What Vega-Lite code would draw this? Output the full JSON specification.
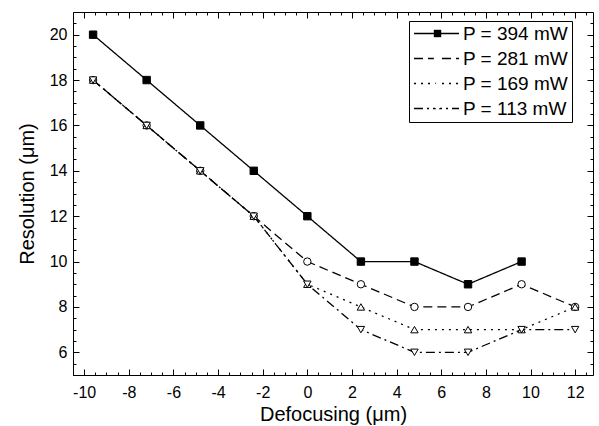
{
  "$schema": "https://vega.github.io/schema/vega-lite/v6.json",
  "width": 520,
  "height": 363,
  "autosize": {"type": "none"},
  "padding": {"left": 73, "top": 12, "right": 6, "bottom": 51},
  "config": {
    "font": "Liberation Sans",
    "view": {"stroke": "black", "strokeWidth": 1},
    "axis": {
      "grid": false,
      "domainColor": "black",
      "tickColor": "black",
      "labelColor": "black",
      "titleColor": "black",
      "labelFontSize": 16,
      "titleFontSize": 20,
      "titleFontWeight": "normal",
      "labelOverlap": false,
      "labelFlush": false,
      "labelBound": false,
      "tickWidth": 1,
      "domainWidth": 1
    }
  },
  "data": {
    "values": [
      {"P": "P = 394 mW", "x": -9.6, "y": 20},
      {"P": "P = 394 mW", "x": -7.2, "y": 18},
      {"P": "P = 394 mW", "x": -4.8, "y": 16},
      {"P": "P = 394 mW", "x": -2.4, "y": 14},
      {"P": "P = 394 mW", "x": 0, "y": 12},
      {"P": "P = 394 mW", "x": 2.4, "y": 10},
      {"P": "P = 394 mW", "x": 4.8, "y": 10},
      {"P": "P = 394 mW", "x": 7.2, "y": 9},
      {"P": "P = 394 mW", "x": 9.6, "y": 10},
      {"P": "P = 281 mW", "x": -9.6, "y": 18},
      {"P": "P = 281 mW", "x": -7.2, "y": 16},
      {"P": "P = 281 mW", "x": -4.8, "y": 14},
      {"P": "P = 281 mW", "x": -2.4, "y": 12},
      {"P": "P = 281 mW", "x": 0, "y": 10},
      {"P": "P = 281 mW", "x": 2.4, "y": 9},
      {"P": "P = 281 mW", "x": 4.8, "y": 8},
      {"P": "P = 281 mW", "x": 7.2, "y": 8},
      {"P": "P = 281 mW", "x": 9.6, "y": 9},
      {"P": "P = 281 mW", "x": 12, "y": 8},
      {"P": "P = 169 mW", "x": -9.6, "y": 18},
      {"P": "P = 169 mW", "x": -7.2, "y": 16},
      {"P": "P = 169 mW", "x": -4.8, "y": 14},
      {"P": "P = 169 mW", "x": -2.4, "y": 12},
      {"P": "P = 169 mW", "x": 0, "y": 9},
      {"P": "P = 169 mW", "x": 2.4, "y": 8},
      {"P": "P = 169 mW", "x": 4.8, "y": 7},
      {"P": "P = 169 mW", "x": 7.2, "y": 7},
      {"P": "P = 169 mW", "x": 9.6, "y": 7},
      {"P": "P = 169 mW", "x": 12, "y": 8},
      {"P": "P = 113 mW", "x": -9.6, "y": 18},
      {"P": "P = 113 mW", "x": -7.2, "y": 16},
      {"P": "P = 113 mW", "x": -4.8, "y": 14},
      {"P": "P = 113 mW", "x": -2.4, "y": 12},
      {"P": "P = 113 mW", "x": 0, "y": 9},
      {"P": "P = 113 mW", "x": 2.4, "y": 7},
      {"P": "P = 113 mW", "x": 4.8, "y": 6},
      {"P": "P = 113 mW", "x": 7.2, "y": 6},
      {"P": "P = 113 mW", "x": 9.6, "y": 7},
      {"P": "P = 113 mW", "x": 12, "y": 7}
    ]
  },
  "layer": [
    {
      "mark": {"type": "line", "color": "black", "strokeWidth": 1.3},
      "encoding": {
        "x": {
          "field": "x", "type": "quantitative",
          "scale": {"domain": [-10.5, 12.8], "nice": false, "zero": false},
          "axis": {
            "orient": "bottom",
            "title": "Defocusing (μm)",
            "values": [-10, -8, -6, -4, -2, 0, 2, 4, 6, 8, 10, 12],
            "labelExpr": "toString(datum.value)",
            "ticks": false,
            "labelPadding": 9,
            "titlePadding": 4
          }
        },
        "y": {
          "field": "y", "type": "quantitative",
          "scale": {"domain": [5, 21], "nice": false, "zero": false},
          "axis": {
            "orient": "left",
            "title": "Resolution (μm)",
            "values": [6, 8, 10, 12, 14, 16, 18, 20],
            "labelExpr": "toString(datum.value)",
            "ticks": false,
            "labelPadding": 6,
            "titlePadding": 12
          }
        },
        "strokeDash": {
          "field": "P", "type": "nominal",
          "scale": {
            "domain": ["P = 394 mW", "P = 281 mW", "P = 169 mW", "P = 113 mW"],
            "range": [[1, 0], [9, 5], [2, 5], [9, 4, 2, 4]]
          },
          "legend": {
            "orient": "none",
            "legendX": 336,
            "legendY": 9,
            "title": null,
            "symbolType": "M-5,0L5,0",
            "symbolSize": 81,
            "symbolOffset": 15,
            "symbolStrokeWidth": 1.3,
            "symbolStrokeColor": "black",
            "labelFontSize": 19,
            "labelColor": "black",
            "labelOffset": 17,
            "strokeColor": "black",
            "padding": 3,
            "rowPadding": 5
          }
        }
      }
    },
    {
      "mark": {"type": "point", "filled": true, "stroke": "black", "strokeWidth": 1, "opacity": 1, "size": 55},
      "encoding": {
        "x": {
          "field": "x", "type": "quantitative",
          "axis": {
            "orient": "top", "offset": -363, "title": null, "labels": false, "domain": false,
            "values": [-10, -8, -6, -4, -2, 0, 2, 4, 6, 8, 10, 12],
            "tickSize": 6
          }
        },
        "y": {
          "field": "y", "type": "quantitative",
          "axis": {
            "orient": "right", "offset": -520, "title": null, "labels": false, "domain": false,
            "values": [6, 8, 10, 12, 14, 16, 18, 20],
            "tickSize": 6
          }
        },
        "shape": {
          "field": "P", "type": "nominal", "sort": "descending",
          "scale": {"range": ["square", "circle", "triangle-up", "triangle-down"]},
          "legend": {
            "orient": "none",
            "legendX": 336,
            "legendY": 9,
            "title": null,
            "symbolSize": 55,
            "symbolOffset": 16,
            "symbolStrokeColor": "black",
            "symbolStrokeWidth": 1,
            "symbolOpacity": 1,
            "labelFontSize": 19,
            "labelOpacity": 0,
            "labelOffset": 17,
            "padding": 3,
            "rowPadding": 5
          }
        },
        "fill": {
          "field": "P", "type": "nominal", "sort": "descending",
          "scale": {"range": ["black", "white", "white", "white"]},
          "legend": {
            "orient": "none",
            "legendX": 336,
            "legendY": 9,
            "title": null,
            "symbolSize": 55,
            "symbolOffset": 16,
            "symbolStrokeColor": "black",
            "symbolStrokeWidth": 1,
            "symbolOpacity": 1,
            "labelFontSize": 19,
            "labelOpacity": 0,
            "labelOffset": 17,
            "padding": 3,
            "rowPadding": 5
          }
        }
      }
    },
    {
      "mark": {"type": "point", "opacity": 0},
      "encoding": {
        "x": {
          "field": "x", "type": "quantitative",
          "axis": {
            "orient": "top", "offset": -363, "title": null, "labels": false, "domain": false,
            "values": [-9.5, -9, -8.5, -7.5, -7, -6.5, -5.5, -5, -4.5, -3.5, -3, -2.5, -1.5, -1, -0.5, 0.5, 1, 1.5, 2.5, 3, 3.5, 4.5, 5, 5.5, 6.5, 7, 7.5, 8.5, 9, 9.5, 10.5, 11, 11.5, 12.5],
            "tickSize": 3
          }
        },
        "y": {
          "field": "y", "type": "quantitative",
          "axis": {
            "orient": "right", "offset": -520, "title": null, "labels": false, "domain": false,
            "values": [5.5, 6.5, 7, 7.5, 8.5, 9, 9.5, 10.5, 11, 11.5, 12.5, 13, 13.5, 14.5, 15, 15.5, 16.5, 17, 17.5, 18.5, 19, 19.5, 20.5],
            "tickSize": 3
          }
        }
      }
    },
    {
      "mark": {"type": "point", "opacity": 0},
      "encoding": {
        "x": {
          "field": "x", "type": "quantitative",
          "axis": {
            "orient": "bottom", "offset": -363, "title": null, "labels": false, "domain": false,
            "values": [-10, -8, -6, -4, -2, 0, 2, 4, 6, 8, 10, 12],
            "tickSize": 6
          }
        },
        "y": {
          "field": "y", "type": "quantitative",
          "axis": {
            "orient": "left", "offset": -520, "title": null, "labels": false, "domain": false,
            "values": [6, 8, 10, 12, 14, 16, 18, 20],
            "tickSize": 6
          }
        }
      }
    },
    {
      "mark": {"type": "point", "opacity": 0},
      "encoding": {
        "x": {
          "field": "x", "type": "quantitative",
          "axis": {
            "orient": "bottom", "offset": -363, "title": null, "labels": false, "domain": false,
            "values": [-9.5, -9, -8.5, -7.5, -7, -6.5, -5.5, -5, -4.5, -3.5, -3, -2.5, -1.5, -1, -0.5, 0.5, 1, 1.5, 2.5, 3, 3.5, 4.5, 5, 5.5, 6.5, 7, 7.5, 8.5, 9, 9.5, 10.5, 11, 11.5, 12.5],
            "tickSize": 3
          }
        },
        "y": {
          "field": "y", "type": "quantitative",
          "axis": {
            "orient": "left", "offset": -520, "title": null, "labels": false, "domain": false,
            "values": [5.5, 6.5, 7, 7.5, 8.5, 9, 9.5, 10.5, 11, 11.5, 12.5, 13, 13.5, 14.5, 15, 15.5, 16.5, 17, 17.5, 18.5, 19, 19.5, 20.5],
            "tickSize": 3
          }
        }
      }
    }
  ],
  "resolve": {"axis": {"x": "independent", "y": "independent"}}
}
